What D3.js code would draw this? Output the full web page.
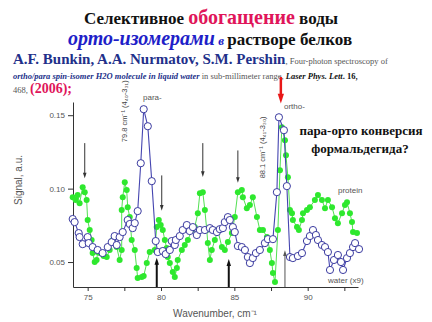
<!DOCTYPE html>
<html>
<head>
<meta charset="utf-8">
<script src="https://cdn.jsdelivr.net/npm/d3@7"></script>
<style>
  body { margin: 0; background: #fff; }
  svg { display: block; }
</style>
</head>
<body>
<svg width="432" height="322"></svg>
<script>
// water (x9), open circles
const waterX = [73.98,74.11,74.39,74.45,74.66,75.00,75.07,75.34,75.68,76.02,76.37,76.64,76.84,76.98,77.18,77.39,77.73,77.87,78.07,78.21,78.41,78.62,78.82,79.10,79.37,79.64,79.78,80.12,80.32,80.60,80.73,80.94,81.01,81.28,81.48,81.76,81.96,82.17,82.44,82.65,82.99,83.33,83.53,83.81,84.01,84.22,84.35,84.56,84.69,84.90,85.03,85.24,85.51,85.72,85.92,86.06,86.26,86.47,86.74,87.08,87.29,87.63,87.90,88.04,88.38,88.58,88.79,88.99,89.33,89.61,89.95,90.15,90.36,90.56,90.70,90.97,91.18,91.38,91.52,91.79,92.06,92.27,92.41,92.68,92.88,93.09,93.23,93.50];
const waterY = [0.0793,0.0772,0.0697,0.0670,0.0622,0.0670,0.0629,0.0602,0.0582,0.0561,0.0602,0.0636,0.0677,0.0616,0.0670,0.0704,0.0786,0.0759,0.0731,0.0765,0.0847,0.1173,0.1541,0.1425,0.1051,0.0643,0.0568,0.0575,0.0554,0.0582,0.0643,0.0616,0.0650,0.0677,0.0718,0.0752,0.0711,0.0738,0.0684,0.0718,0.0718,0.0731,0.0718,0.0704,0.0724,0.0731,0.0772,0.0806,0.0786,0.0738,0.0704,0.0609,0.0602,0.0582,0.0534,0.0493,0.0527,0.0561,0.0582,0.0629,0.0656,0.0656,0.0976,0.1486,0.1398,0.1017,0.0534,0.0527,0.0541,0.0561,0.0643,0.0677,0.0718,0.0684,0.0650,0.0616,0.0602,0.0568,0.0446,0.0514,0.0548,0.0500,0.0446,0.0527,0.0561,0.0602,0.0629,0.0588];

// protein, filled green dots
const proteinX = [73.98,74.18,74.32,74.45,74.66,74.80,74.93,75.00,75.14,75.27,75.34,75.48,75.61,75.68,75.82,76.09,76.30,76.50,76.71,76.98,77.18,77.32,77.32,77.39,77.53,77.66,77.73,77.87,78.00,78.21,78.34,78.41,78.69,78.82,79.03,79.23,79.57,79.71,79.85,79.98,80.12,80.26,80.39,80.46,80.60,80.80,80.94,81.08,81.14,81.42,81.62,81.83,82.10,82.30,82.51,82.65,82.85,82.99,83.12,83.19,83.33,83.46,83.67,83.87,84.15,84.35,84.56,84.83,85.03,85.24,85.51,85.58,85.85,86.06,86.26,86.54,86.74,86.95,87.22,87.42,87.56,87.63,87.77,87.97,88.11,88.24,88.45,88.52,88.65,88.79,88.93,88.99,89.27,89.40,89.61,89.68,89.95,90.15,90.49,90.70,90.97,91.18,91.38,91.66,91.86,92.06,92.34,92.54,92.68,92.88,93.02,93.09,93.36];
const proteinY = [0.0942,0.0922,0.0956,0.0901,0.1010,0.0976,0.0922,0.0786,0.0718,0.0650,0.0561,0.0500,0.0514,0.0568,0.0561,0.0541,0.0534,0.0582,0.0650,0.0602,0.0514,0.0582,0.0854,0.0942,0.1044,0.0990,0.0874,0.0806,0.0650,0.0582,0.0459,0.0391,0.0398,0.0405,0.0493,0.0568,0.0582,0.0738,0.0786,0.0752,0.0718,0.0650,0.0595,0.0534,0.0493,0.0432,0.0398,0.0459,0.0514,0.0582,0.0616,0.0650,0.0718,0.0738,0.0833,0.0969,0.0976,0.0854,0.0718,0.0629,0.0514,0.0582,0.0650,0.0718,0.0602,0.0582,0.0636,0.0697,0.0806,0.0976,0.0990,0.0942,0.0867,0.0888,0.0942,0.0806,0.0718,0.0718,0.0670,0.0582,0.0493,0.0425,0.0364,0.0718,0.1126,0.1418,0.1330,0.1228,0.1078,0.0854,0.0833,0.0786,0.0738,0.0718,0.0786,0.0833,0.0854,0.0874,0.0922,0.0956,0.0922,0.0867,0.0922,0.0874,0.0799,0.0765,0.0833,0.0888,0.0908,0.0833,0.0772,0.0704,0.0697];

const xTicks = [75, 80, 85, 90];
const xMinorTicks = [77.5, 82.5, 87.5, 92.5];
const yTicks = [0.05, 0.10, 0.15];

// marker arrows: wavenumber, start signal, end signal
const downArrowX = [74.80, 80.05, 82.85, 85.24];
const downArrowFrom = [0.131, 0.109, 0.131, 0.126];
const downArrowTo = [0.107, 0.085, 0.108, 0.104];
const upArrowX = [79.71, 84.62, 88.45];
const upArrowTip = [0.053, 0.052, 0.058];

const svg = d3.select("svg");
const serif = "'Liberation Serif', 'DejaVu Serif', serif";
const sans = "'Liberation Sans', Arial, sans-serif";

const x = d3.scaleLinear().domain([74, 93.43]).range([73, 358]);
const y = d3.scaleLinear().domain([0.033, 0.159]).range([287, 102]);

// ---- heading ----
const t1 = svg.append("text").attr("x", 211).attr("y", 24).attr("text-anchor", "middle")
  .style("font-family", serif).style("font-weight", "bold");
t1.append("tspan").attr("font-size", 17).attr("fill", "#111").text("Селективное ");
t1.append("tspan").attr("font-size", 20).attr("fill", "#e0155a").text("обогащение");
t1.append("tspan").attr("font-size", 17).attr("fill", "#111").text(" воды");

const t2 = svg.append("text").attr("x", 210).attr("y", 45).attr("text-anchor", "middle")
  .style("font-family", serif).style("font-weight", "bold");
t2.append("tspan").attr("font-size", 20).attr("fill", "#1e1ec8").style("font-style", "italic").text("орто-изомерами");
t2.append("tspan").attr("font-size", 13).attr("fill", "#1e1ec8").style("font-style", "italic").text(" в ");
t2.append("tspan").attr("font-size", 17).attr("fill", "#111").text("растворе белков");

const t3 = svg.append("text").attr("x", 13).attr("y", 64).style("font-family", serif);
t3.append("tspan").attr("font-size", 15).attr("font-weight", "bold").attr("fill", "#22308a").text("A.F. Bunkin, A.A. Nurmatov, S.M. Pershin");
t3.append("tspan").attr("font-size", 8.5).attr("fill", "#555").text(", Four-photon spectroscopy of");

const t4 = svg.append("text").attr("x", 13).attr("y", 79).style("font-family", serif).attr("font-size", 8.5);
t4.append("tspan").attr("font-weight", "bold").style("font-style", "italic").attr("fill", "#22308a").text("ortho/para spin-isomer H2O molecule in liquid water");
t4.append("tspan").attr("fill", "#555").text(" in sub-millimeter range, ");
t4.append("tspan").attr("font-weight", "bold").style("font-style", "italic").attr("fill", "#111").text("Laser Phys. Lett");
t4.append("tspan").attr("font-weight", "bold").attr("fill", "#111").text(". 16,");

const t5 = svg.append("text").attr("x", 13).attr("y", 93).style("font-family", serif);
t5.append("tspan").attr("font-size", 8.5).attr("fill", "#555").text("468, ");
t5.append("tspan").attr("font-size", 14).attr("font-weight", "bold").attr("fill", "#e0155a").text("(2006);");

// ---- axes ----
svg.append("g").attr("transform", "translate(73,0)")
  .call(d3.axisLeft(y).tickValues(yTicks).tickFormat(d3.format(".2f")).tickSize(5).tickSizeOuter(0));
svg.append("g").attr("transform", "translate(0,287)")
  .call(d3.axisBottom(x).tickValues(xTicks).tickFormat(d3.format("d")).tickSize(4).tickSizeOuter(0));
svg.append("g").attr("transform", "translate(0,287)")
  .call(d3.axisBottom(x).tickValues(xMinorTicks).tickFormat("").tickSize(4).tickSizeOuter(0))
  .select(".domain").remove();
svg.selectAll(".domain, .tick line").attr("stroke", "#333");
svg.selectAll(".tick text").attr("fill", "#555").style("font-family", sans).attr("font-size", 8);

svg.append("text").attr("transform", "translate(22,180) rotate(-90)").attr("text-anchor", "middle")
  .style("font-family", sans).attr("font-size", 10).attr("fill", "#555").text("Signal, a.u.");
svg.append("text").attr("x", 215).attr("y", 317).attr("text-anchor", "middle")
  .style("font-family", sans).attr("font-size", 10).attr("fill", "#555").text("Wavenumber, cm⁻¹");

// ---- protein series ----
const protein = proteinX.map((d, i) => [d, proteinY[i]]);
const water = waterX.map((d, i) => [d, waterY[i]]);
const line = d3.line().x(d => x(d[0])).y(d => y(d[1]));

svg.append("path").datum(protein).attr("d", line)
  .attr("fill", "none").attr("stroke", "#52e052").attr("stroke-width", 1);
svg.append("g").selectAll("circle").data(protein).enter().append("circle")
  .attr("cx", d => x(d[0])).attr("cy", d => y(d[1])).attr("r", 3)
  .attr("fill", "#2ee82e");

// ---- water series ----
svg.append("path").datum(water).attr("d", line)
  .attr("fill", "none").attr("stroke", "#4545b0").attr("stroke-width", 1.1);
svg.append("g").selectAll("circle").data(water).enter().append("circle")
  .attr("cx", d => x(d[0])).attr("cy", d => y(d[1])).attr("r", 3.6)
  .attr("fill", "#fff").attr("stroke", "#3a3aa0").attr("stroke-width", 1);

// ---- arrows ----
function arrow(x0, y0, y1, color, width, head) {
  const dir = y1 > y0 ? 1 : -1;
  svg.append("line").attr("x1", x0).attr("x2", x0).attr("y1", y0).attr("y2", y1 - dir * head)
    .attr("stroke", color).attr("stroke-width", width);
  svg.append("path")
    .attr("d", `M${x0 - head * 0.45},${y1 - dir * head * 1.4} L${x0 + head * 0.45},${y1 - dir * head * 1.4} L${x0},${y1} Z`)
    .attr("fill", color);
}
downArrowX.forEach((d, i) => arrow(x(d), y(downArrowFrom[i]), y(downArrowTo[i]), "#333", 1, 4));
arrow(x(upArrowX[0]), y(0.033), y(upArrowTip[0]), "#111", 2, 5);
arrow(x(upArrowX[1]), y(0.033), y(upArrowTip[1]), "#111", 2, 5);
arrow(x(upArrowX[2]), y(0.033), y(upArrowTip[2]), "#555", 1, 4);
arrow(x(88.17), y(0.176), y(0.158), "#e81818", 2.5, 7);

// ---- peak labels ----
svg.append("text").attr("x", 143).attr("y", 100).style("font-family", sans).attr("font-size", 8)
  .attr("fill", "#555").text("para-");
svg.append("text").attr("x", 284).attr("y", 109).style("font-family", sans).attr("font-size", 8)
  .attr("fill", "#555").text("ortho-");
svg.append("text").attr("transform", `translate(${x(77.66)},${y(0.1316)}) rotate(-90)`)
  .style("font-family", sans).attr("font-size", 7.5).attr("fill", "#444").text("79.8 cm⁻¹ (4₄₀-3₃₁)");
svg.append("text").attr("transform", `translate(${x(87.08)},${y(0.107)}) rotate(-90)`)
  .style("font-family", sans).attr("font-size", 7.5).attr("fill", "#444").text("88.1 cm⁻¹ (4₄₁-3₃₀)");

svg.append("text").attr("x", 338).attr("y", 193).style("font-family", sans).attr("font-size", 8)
  .attr("fill", "#555").text("protein");
svg.append("text").attr("x", 328).attr("y", 283).style("font-family", sans).attr("font-size", 8)
  .attr("fill", "#555").text("water (x9)");

const q = svg.append("text").style("font-family", serif).style("font-weight", "bold")
  .attr("font-size", 13).attr("fill", "#111").attr("text-anchor", "middle");
q.append("tspan").attr("x", 361).attr("y", 135).text("пара-орто конверсия");
q.append("tspan").attr("x", 360).attr("y", 153).text("формальдегида?");
</script>
</body>
</html>
